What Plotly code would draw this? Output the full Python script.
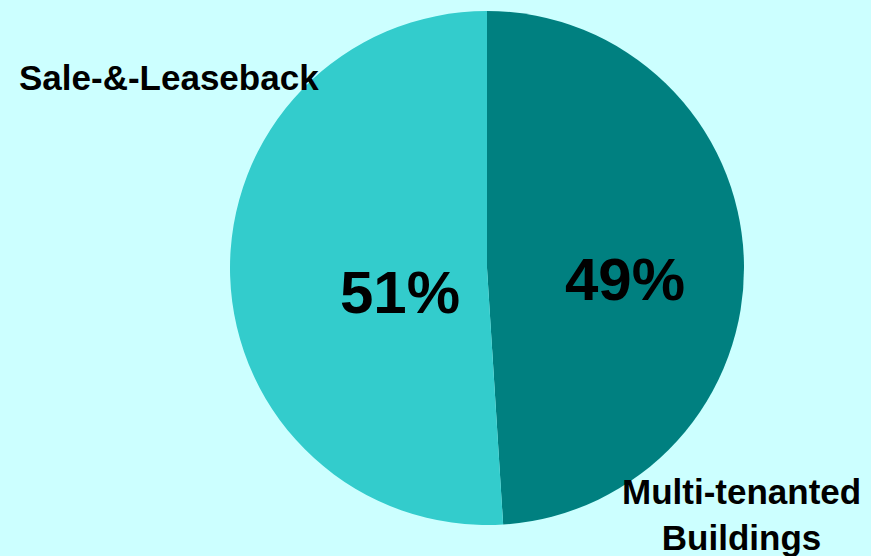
import plotly.graph_objects as go

labels = ["Multi-tenanted Buildings", "Sale-&-Leaseback"]
label_text = ["Multi-tenanted<br>Buildings", "Sale-&-Leaseback"]
values = [49, 51]
colors = ["#008080", "#33CCCC"]

total = sum(values)
pct_text = [f"{round(v / total * 100)}%" for v in values]

fig = go.Figure(go.Pie(
    labels=labels,
    values=values,
    sort=False,
    direction="clockwise",
    rotation=0,
    marker=dict(colors=colors, line=dict(width=0)),
    textinfo="none",
    showlegend=False,
    hoverinfo="label+percent",
    domain=dict(x=[230/871, 744/871], y=[31/556, 545/556]),
))

# percentage labels inside slices
pct_pos = [(625, 279), (400, 292)]
for t, (px, py) in zip(pct_text, pct_pos):
    fig.add_annotation(x=px/871, y=1-py/556, xref="paper", yref="paper",
                       text="<b>" + t + "</b>", showarrow=False,
                       font=dict(family="Liberation Sans", size=60, color="black"),
                       xanchor="center", yanchor="middle")

fig.add_annotation(x=169/871, y=1-77/556, xref="paper", yref="paper",
                   text="<b>" + label_text[1] + "</b>", showarrow=False,
                   font=dict(family="Liberation Sans", size=35, color="black"),
                   xanchor="center", yanchor="middle")
fig.add_annotation(x=741/871, y=1-514/556, xref="paper", yref="paper",
                   text="<b>" + label_text[0] + "</b>", showarrow=False,
                   font=dict(family="Liberation Sans", size=35, color="black"),
                   xanchor="center", yanchor="middle", align="center")

fig.update_layout(
    width=871, height=556,
    margin=dict(l=0, r=0, t=0, b=0),
    paper_bgcolor="#CCFFFF",
    plot_bgcolor="#CCFFFF",
)

fig.write_html("out.html",
               config={"displayModeBar": False},
               post_script="document.body.style.margin='0';document.body.style.overflow='hidden';")
